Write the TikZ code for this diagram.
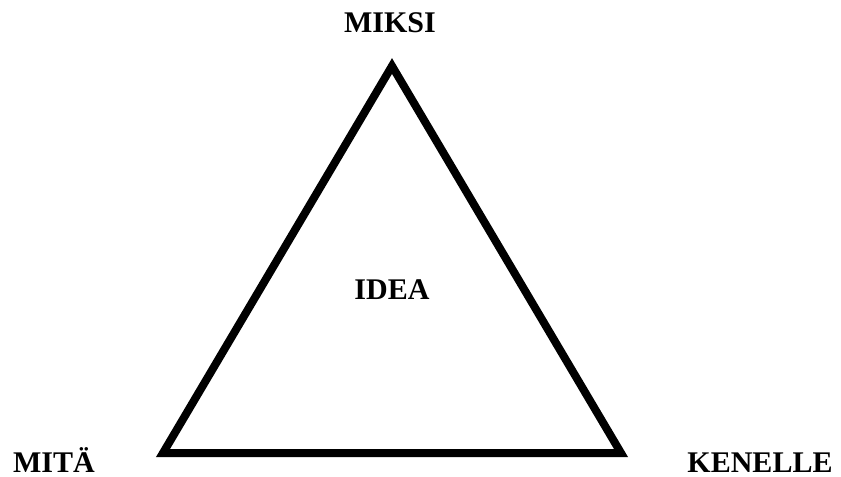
\documentclass[tikz,border=0pt]{standalone}
\usepackage{fontspec}
\setmainfont{Liberation Serif}
\usetikzlibrary{positioning}

\begin{document}
\begin{tikzpicture}[x=0.75pt,y=-0.75pt,
        label/.style={font=\fontsize{22.5}{25}\selectfont\bfseries, anchor=base, inner sep=0pt},
        edge/.style={line width=6pt, line join=miter}
      ]
        \useasboundingbox (0,0) rectangle (841,477);
        \coordinate (top) at (392,66);
        \coordinate (left) at (163,453);
        \coordinate (right) at (621,453);
        \draw[edge] (top) -- (left) -- (right) -- cycle;
        \node[label] at (390,33) (miksi) {MIKSI};
        \node[label] at (392,299) (idea) {IDEA};
        \node[label] at (54,472) (mita) {MITÄ};
        \node[label] at (760,472) (kenelle) {KENELLE};
      \end{tikzpicture}
\end{document}
